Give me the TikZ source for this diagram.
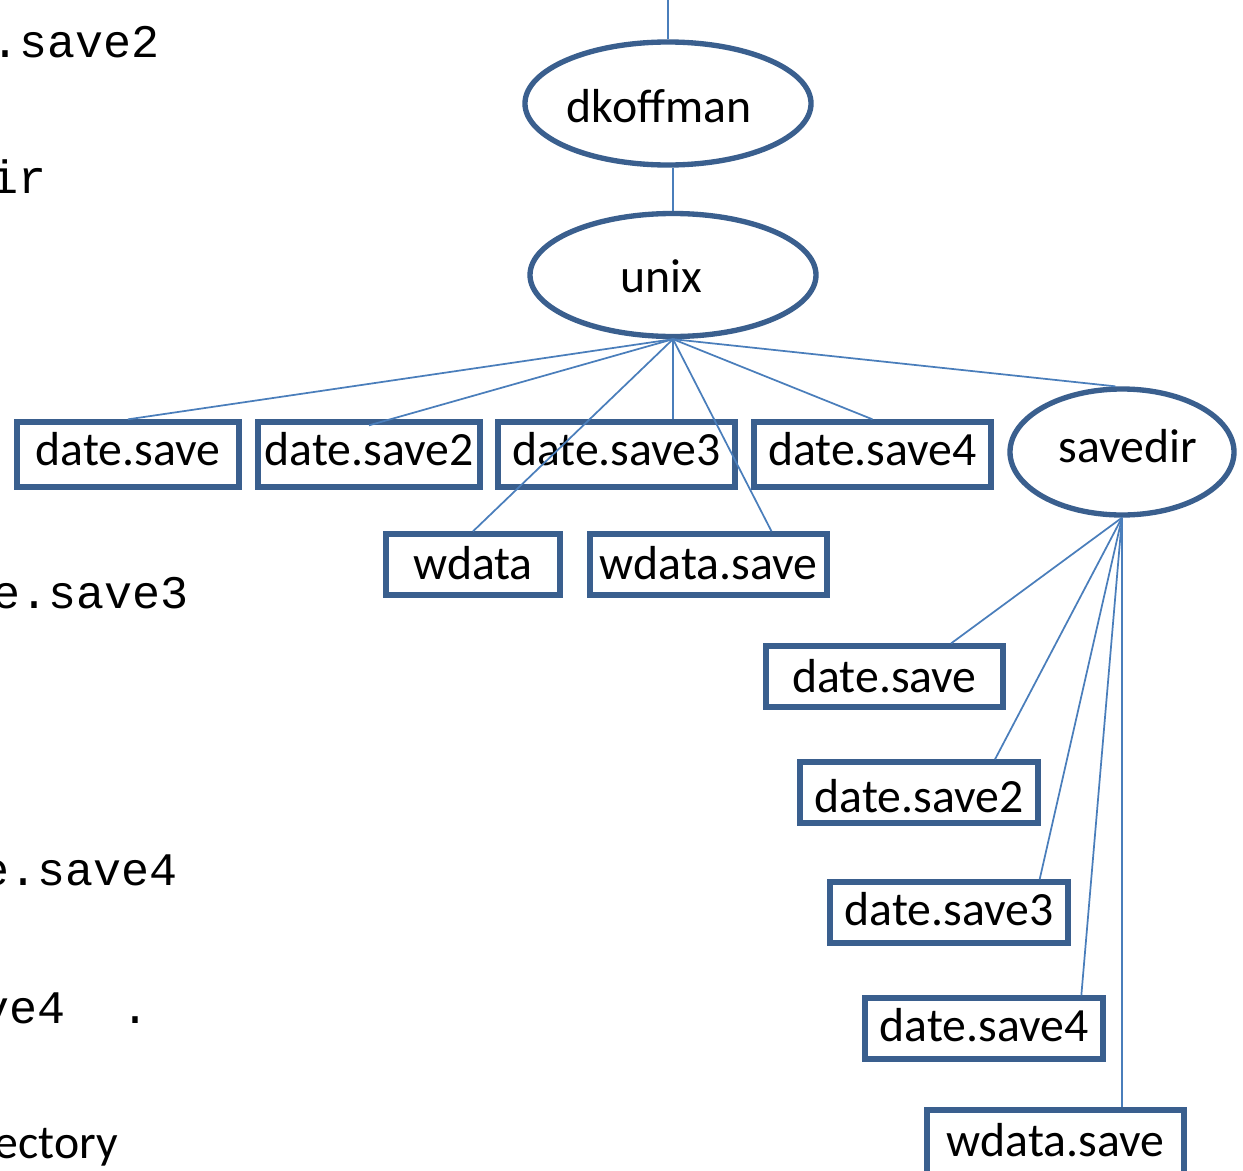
\documentclass[tikz,border=0pt]{standalone}
\usepackage{fontspec}
\setmainfont{Carlito}
\newfontfamily\codefont{Liberation Mono}
\usetikzlibrary{shapes.geometric}
\definecolor{nodeblue}{HTML}{3A5F8E}
\definecolor{linkblue}{HTML}{4A7EBB}
\begin{document}
\begin{tikzpicture}[x=0.75pt,y=-0.75pt,
  big/.style={font=\fontsize{35.8}{42}\selectfont},
  dirnode/.style={ellipse, draw=nodeblue, line width=4pt, inner sep=0pt, big, text height=24pt, text depth=8pt},
  filebox/.style={rectangle, draw=nodeblue, line width=4pt, inner sep=0pt, big, text height=24pt, text depth=8pt},
  link/.style={draw=linkblue, line width=1.3pt},
  code/.style={font=\codefont\fontsize{35}{42}\selectfont, inner sep=0pt, anchor=base east},
  plain/.style={big, inner sep=0pt, anchor=base east}]
\useasboundingbox (0,0) rectangle (1243,1171);
\fill[white] (0,0) rectangle (1243,1171);

% left text (cut off at the page edge)
\node[code] (c1) at (160,57) {.save2};
\node[code] (c2) at (47,193) {ir};
\node[code] (c3) at (189,608) {e.save3};
\node[code] (c4) at (178,885) {e.save4};
\node[code] (c5) at (150,1023) {ve4~~.};
\node[plain] (c6) at (118,1158) {ectory};

% directories
\node[dirnode, minimum width=214.5pt, minimum height=92.25pt, text height=32pt, text depth=4pt] (dk) at (668,103.5) {dkoffman\hspace*{13.5pt}};
\node[dirnode, minimum width=214.5pt, minimum height=92.25pt, text height=30pt, text depth=3.5pt] (unix) at (673,275) {unix\hspace*{18pt}};
\node[dirnode, minimum width=168pt, minimum height=94.5pt] (sd) at (1122,452) {\hspace*{9pt}savedir};

% files in unix
\node[filebox, minimum width=166.5pt, minimum height=48.75pt] (f1) at (128,454.5) {date.save};
\node[filebox, minimum width=166.5pt, minimum height=48.75pt] (f2) at (369,454.5) {date.save2};
\node[filebox, minimum width=177.75pt, minimum height=48.75pt] (f3) at (616.5,454.5) {date.save3};
\node[filebox, minimum width=177.75pt, minimum height=48.75pt] (f4) at (872.5,454.5) {date.save4};
\node[filebox, minimum width=130.5pt, minimum height=45.75pt, text height=28pt, text depth=6pt] (w1) at (473,564.5) {wdata};
\node[filebox, minimum width=177.75pt, minimum height=45.75pt, text height=28pt, text depth=6pt] (w2) at (708.5,564.5) {wdata.save};

% files in savedir
\node[filebox, minimum width=177.75pt, minimum height=45.75pt, text height=28pt, text depth=4.5pt] (s1) at (884.5,676.5) {date.save};
\node[filebox, minimum width=178.5pt, minimum height=45.75pt, text height=32pt, text depth=2.5pt] (s2) at (919,792.5) {date.save2};
\node[filebox, minimum width=178.5pt, minimum height=45.75pt, text height=26pt, text depth=7pt] (s3) at (949,912.5) {date.save3};
\node[filebox, minimum width=178.5pt, minimum height=45.75pt, text height=26pt, text depth=7pt] (s4) at (984,1028.5) {date.save4};
\node[filebox, minimum width=192.75pt, minimum height=51pt, text height=26pt, text depth=7pt] (s5) at (1055.5,1144) {wdata.save};

% connectors
\coordinate (top) at (668,0);
\draw[link] (top) -- (dk.north);
\draw[link] (unix.north) -- (unix.north |- dk.south);
\draw[link] (unix.south) -- (f1.north);
\draw[link] (unix.south) -- ([yshift=-4.5pt]f2.north);
\draw[link] (unix.south) -- (w1.north);
\draw[link] (unix.south) -- (unix.south |- f3.north);
\draw[link] (unix.south) -- ([xshift=47.25pt]w2.north);
\draw[link] (unix.south) -- (f4.north);
\draw[link] (unix.south) -- ([xshift=-5pt]sd.north);
\draw[link] (sd.south) -- ([xshift=50pt]s1.north);
\draw[link] (sd.south) -- ([xshift=57pt]s2.north);
\draw[link] (sd.south) -- ([xshift=68pt]s3.north);
\draw[link] (sd.south) -- ([xshift=73pt]s4.north);
\draw[link] (sd.south) -- (sd.south |- s5.north);
\end{tikzpicture}
\end{document}
